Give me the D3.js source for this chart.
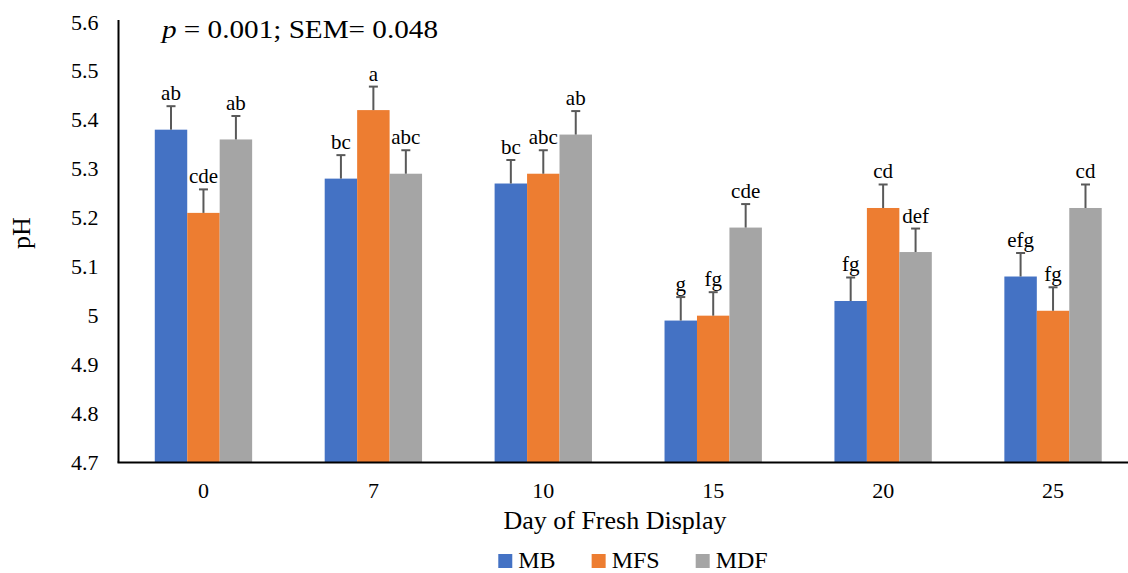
<!DOCTYPE html>
<html>
<head>
<meta charset="utf-8">
<script src="https://cdn.jsdelivr.net/npm/d3@7"></script>
<style>
  html, body { margin: 0; padding: 0; background: #fff; }
  svg { display: block; }
  svg text { font-family: "Liberation Serif", "Times New Roman", "DejaVu Serif", serif !important; fill: #000; }
</style>
</head>
<body>
<svg id="chart" width="1128" height="573"></svg>
<script>
// ---- data ----
const days = ["0", "7", "10", "15", "20", "25"];
const seriesNames = ["MB", "MFS", "MDF"];
const mbValues  = [5.38, 5.28, 5.27, 4.99, 5.03, 5.08];
const mfsValues = [5.21, 5.42, 5.29, 5.00, 5.22, 5.01];
const mdfValues = [5.36, 5.29, 5.37, 5.18, 5.13, 5.22];
const mbErr  = [0.048, 0.048, 0.048, 0.048, 0.048, 0.048];
const mfsErr = [0.048, 0.048, 0.048, 0.048, 0.048, 0.048];
const mdfErr = [0.048, 0.048, 0.048, 0.048, 0.048, 0.048];
const mbLetters  = ["ab", "bc", "bc", "g", "fg", "efg"];
const mfsLetters = ["cde", "a", "abc", "fg", "cd", "fg"];
const mdfLetters = ["ab", "abc", "ab", "cde", "def", "cd"];
const yTickValues = [4.7, 4.8, 4.9, 5.0, 5.1, 5.2, 5.3, 5.4, 5.5, 5.6];
const yTickLabels = ["4.7", "4.8", "4.9", "5", "5.1", "5.2", "5.3", "5.4", "5.5", "5.6"];
const colors = ["#4472C4", "#ED7D31", "#A5A5A5"];
const titleText = "= 0.001; SEM= 0.048";

const seriesVals = [mbValues, mfsValues, mdfValues];
const seriesErr = [mbErr, mfsErr, mdfErr];
const seriesLetters = [mbLetters, mfsLetters, mdfLetters];

// ---- layout ----
const svg = d3.select("#chart");
const mLeft = 118.5, mRight = 1138, mTop = 22, mBottom = 462.5;

const x = d3.scaleBand().domain(days).range([mLeft, mRight]).paddingInner(0).paddingOuter(0);
const barW = x.bandwidth() * 0.191;
const xs = d3.scaleBand().domain(seriesNames).range([-barW * 1.5, barW * 1.5]);
const y = d3.scaleLinear().domain([4.7, 5.6]).range([mBottom, mTop]);

const rows = [];
seriesNames.forEach((s, si) => {
  days.forEach((d, di) => {
    rows.push({ s, si, d, v: seriesVals[si][di], e: seriesErr[si][di], lab: seriesLetters[si][di] });
  });
});

const g = svg.append("g");
g.selectAll("rect.bar").data(rows).join("rect")
  .attr("class", "bar")
  .attr("x", r => x(r.d) + x.bandwidth() / 2 + xs(r.s))
  .attr("width", xs.bandwidth())
  .attr("y", r => y(r.v))
  .attr("height", r => y(4.7) - y(r.v))
  .attr("fill", r => colors[r.si]);

const cx = r => x(r.d) + x.bandwidth() / 2 + xs(r.s) + xs.bandwidth() / 2;
g.selectAll("line.stem").data(rows).join("line")
  .attr("class", "stem")
  .attr("x1", cx).attr("x2", cx)
  .attr("y1", r => y(r.v)).attr("y2", r => y(r.v + r.e))
  .attr("stroke", "#595959").attr("stroke-width", 2);
g.selectAll("line.cap").data(rows).join("line")
  .attr("class", "cap")
  .attr("x1", r => cx(r) - 4.5).attr("x2", r => cx(r) + 4.5)
  .attr("y1", r => y(r.v + r.e)).attr("y2", r => y(r.v + r.e))
  .attr("stroke", "#595959").attr("stroke-width", 2);

g.selectAll("text.lab").data(rows).join("text")
  .attr("class", "lab")
  .attr("x", cx)
  .attr("y", r => y(r.v + r.e) - 6)
  .attr("text-anchor", "middle")
  .attr("font-size", 21)
  .text(r => r.lab);

// y axis
const yAxis = d3.axisLeft(y).tickValues(yTickValues).tickSize(0).tickPadding(20)
  .tickFormat((d, i) => yTickLabels[i]);
const ya = svg.append("g").attr("transform", `translate(${mLeft},0)`).call(yAxis);
ya.select(".domain").remove();
ya.selectAll("text").attr("font-size", 22);
svg.append("line").attr("x1", mLeft).attr("x2", mLeft).attr("y1", y(5.6) - 2).attr("y2", mBottom)
  .attr("stroke", "#000").attr("stroke-width", 2);

// x axis
const xAxis = d3.axisBottom(x).tickSize(0).tickPadding(20);
const xa = svg.append("g").attr("transform", `translate(0,${mBottom})`).call(xAxis);
xa.select(".domain").remove();
xa.selectAll("text").attr("font-size", 22);
svg.append("line").attr("x1", mLeft - 1).attr("x2", 1128).attr("y1", mBottom).attr("y2", mBottom)
  .attr("stroke", "#000").attr("stroke-width", 2);

// axis titles
svg.append("text").attr("x", 615).attr("y", 529).attr("text-anchor", "middle")
  .attr("font-size", 26).text("Day of Fresh Display");
svg.append("text").attr("transform", "translate(30,233) rotate(-90)").attr("text-anchor", "middle")
  .attr("font-size", 26).text("pH");

// stat title
const t = svg.append("text").attr("x", 162).attr("y", 38).attr("font-size", 25)
  .attr("textLength", 276).attr("lengthAdjust", "spacingAndGlyphs");
t.append("tspan").attr("font-style", "italic").text("p");
t.append("tspan").text(" " + titleText);

// legend
const leg = svg.append("g");
let lx = 0;
seriesNames.forEach((s, i) => {
  const it = leg.append("g").attr("transform", `translate(${lx},0)`);
  it.append("rect").attr("x", 0).attr("y", -14).attr("width", 14).attr("height", 14).attr("fill", colors[i]);
  const tx = it.append("text").attr("x", 20).attr("y", 0).attr("font-size", 24).text(s);
  lx += 20 + tx.node().getComputedTextLength() + 36;
});
const legW = lx - 36;
leg.attr("transform", `translate(${633 - legW / 2},568)`);
</script>
</body>
</html>
